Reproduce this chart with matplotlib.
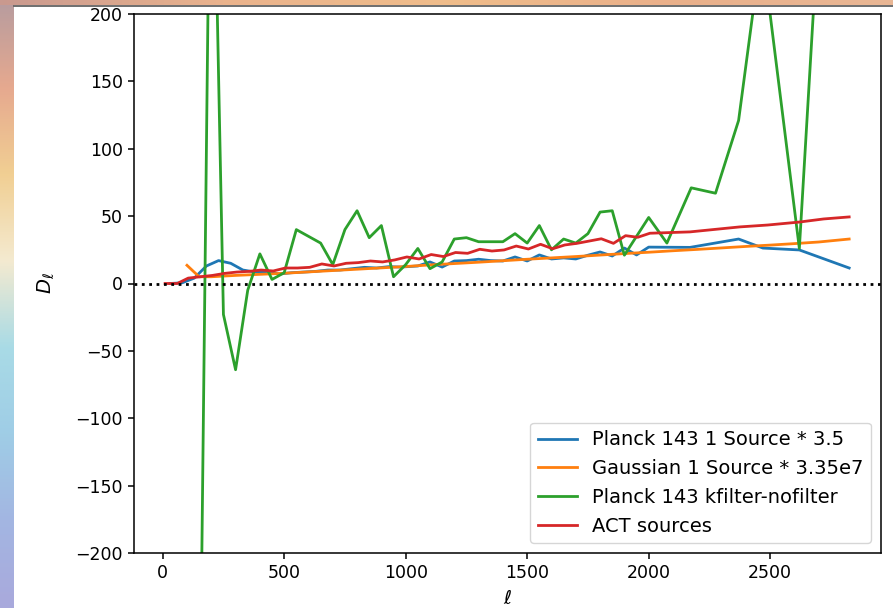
import numpy as np
import matplotlib
matplotlib.use("Agg")
from matplotlib import pyplot as plt
from matplotlib.colors import LinearSegmentedColormap

#####################################################################################################
# Data

ell_blue = [30, 80, 130, 180, 230, 280, 330, 380, 430, 480, 530, 580, 630, 680, 730, 780, 830, 880,
            930, 980, 1050, 1100, 1150, 1200, 1250, 1300, 1350, 1400, 1450, 1500, 1550, 1600, 1650,
            1700, 1750, 1800, 1850, 1900, 1950, 2000, 2170, 2370, 2470, 2620, 2825]
D_blue = [0, 0.5, 4, 13, 17, 15, 10, 8.5, 8.5, 7, 8, 8.5, 9, 10, 10, 11, 12, 11.5,
          12.5, 12.2, 13, 16, 12.2, 16.7, 17, 18, 17, 16.7, 19.7, 16.7, 21.2, 18.2, 19,
          18.2, 21, 23.4, 20.4, 26.3, 21.2, 27, 26.8, 33, 26.3, 24.9, 11.5]

ell_orange = [100, 150, 200, 300, 400, 500, 600, 700, 800, 900, 1000, 1100, 1200, 1300, 1400,
              1500, 1600, 1700, 1800, 1900, 2000, 2100, 2200, 2300, 2400, 2500, 2600, 2700, 2825]
D_orange = [13.5, 5, 5, 6, 6.8, 7.6, 8.6, 9.6, 10.6, 11.6, 12.6, 13.8, 14.8, 15.8, 16.9,
            18, 19, 20, 21.1, 22.2, 23.2, 24.3, 25.3, 26.4, 27.5, 28.5, 29.6, 30.8, 33]

ell_green = [150, 200, 250, 300, 350, 400, 450, 500, 550, 600, 650, 700, 750, 800, 850, 900,
             950, 1000, 1050, 1100, 1150, 1200, 1250, 1300, 1350, 1400, 1450, 1500, 1550, 1600,
             1650, 1700, 1750, 1800, 1850, 1900, 1950, 2000, 2075, 2175, 2275, 2370, 2465, 2620, 2720]
D_green = [-380, 420, -23, -64, -5, 22, 3, 8, 40, 35, 30, 14, 40, 54, 34, 43,
           5, 14, 26, 11, 16, 33, 34, 31, 31, 31, 37, 30, 43, 25,
           33, 30, 37, 53, 54, 21, 35, 49, 30, 71, 67, 121, 250, 26, 330]

ell_red = [10, 60, 105, 155, 205, 255, 305, 355, 405, 455, 505, 555, 605, 655, 705, 755, 805, 855,
           905, 955, 1005, 1055, 1105, 1155, 1205, 1255, 1305, 1355, 1405, 1455, 1505, 1555, 1605,
           1655, 1705, 1755, 1805, 1855, 1905, 1955, 2005, 2170, 2375, 2490, 2620, 2720, 2825]
D_red = [0, 0, 4, 5, 6, 7.5, 8.5, 9, 10, 9.3, 11.5, 11.5, 12, 14.5, 13, 15, 15.5, 16.7,
         16, 17.5, 19.7, 18.2, 21.5, 20, 23, 22.4, 25.4, 24.1, 24.9, 27.8, 25.6, 29.1, 25.8,
         28.6, 29.8, 31.5, 33.2, 29.8, 35.5, 34.3, 37.3, 38.3, 42, 43.4, 45.6, 47.9, 49.4]

labels = ["Planck 143 1 Source * 3.5", "Gaussian 1 Source * 3.35e7",
          "Planck 143 kfilter-nofilter", "ACT sources"]

xticks = [0, 500, 1000, 1500, 2000, 2500]
yticks = [-200, -150, -100, -50, 0, 50, 100, 150, 200]

#####################################################################################################
# Figure

fig = plt.figure(figsize=(8.93, 6.08), dpi=100)
fig.patch.set_facecolor("white")

# blurred desktop showing at the left and top edges of the screenshot
side = LinearSegmentedColormap.from_list(
    "side", ["#b79c9f", "#e6a98f", "#f1cf93", "#f4ead0", "#a9dbe6", "#9fcde6", "#a3b6e2", "#a9a9dc"])
ax_side = fig.add_axes([0, 0, 14 / 893, 1])
ax_side.imshow(np.linspace(0, 1, 256).reshape(-1, 1), aspect="auto", cmap=side)
ax_side.axis("off")

top = LinearSegmentedColormap.from_list("top", ["#c9998f", "#eab38d", "#f0bd8b", "#eab08a", "#e9b795"])
ax_top = fig.add_axes([0, 1 - 5 / 608, 1, 5 / 608])
ax_top.imshow(np.linspace(0, 1, 256).reshape(1, -1), aspect="auto", cmap=top)
ax_top.axis("off")
fig.add_artist(plt.Line2D([14 / 893, 1], [1 - 5.5 / 608] * 2, color="#555555", lw=1.2,
                          transform=fig.transFigure))

ax = fig.add_axes([134 / 893, 55 / 608, 747 / 893, 539 / 608])
ax.plot(ell_blue, D_blue, color="#1f77b4", lw=2, label=labels[0])
ax.plot(ell_orange, D_orange, color="#ff7f0e", lw=2, label=labels[1])
ax.plot(ell_green, D_green, color="#2ca02c", lw=2, label=labels[2])
ax.plot(ell_red, D_red, color="#d62728", lw=2, label=labels[3])
ax.axhline(0, color="k", ls=":", lw=2)

ax.set_xlim(-118, 2956)
ax.set_ylim(-200, 200)
ax.set_xticks(xticks)
ax.set_yticks(yticks)
ax.tick_params(labelsize=12.5, length=4.5, width=1.1)
for sp in ax.spines.values():
    sp.set_linewidth(1.1)
ax.set_xlabel(r"$\ell$", fontsize=14, labelpad=5)
ax.set_ylabel(r"$D_\ell$", fontsize=14, labelpad=13)

ax.legend(loc="lower right", fontsize=14)

plt.savefig("out.png", dpi=100)
